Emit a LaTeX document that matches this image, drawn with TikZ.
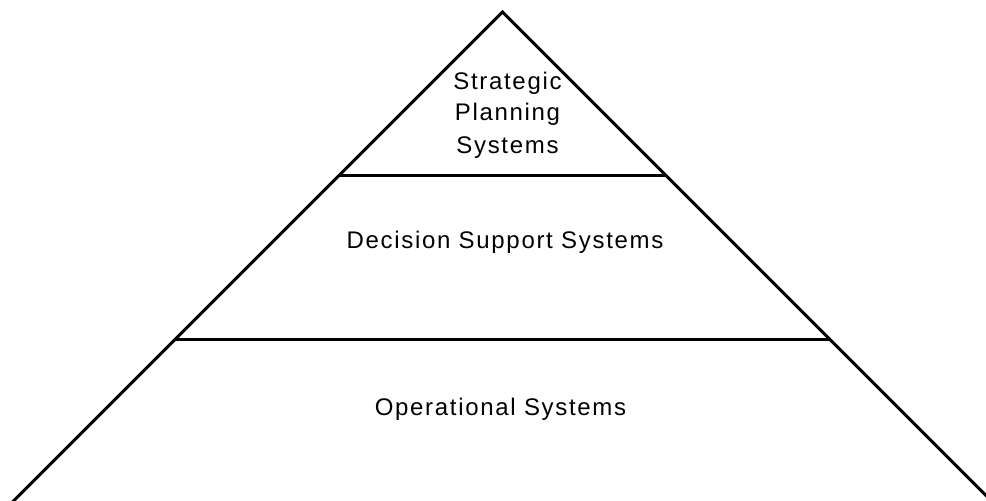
\documentclass[tikz,border=0pt]{standalone}
\usepackage{fontspec}
\setmainfont{Liberation Sans}[LetterSpace=7]
\begin{document}
\begin{tikzpicture}[x=1pt,y=-1pt,
  edge/.style={line width=3pt,line cap=butt,line join=miter},
  lbl/.style={anchor=base,inner sep=0pt,font=\fontsize{24}{28}\selectfont}]
\useasboundingbox (0,0) rectangle (986,501);
\coordinate (apex) at (502.5,12);
\coordinate (bl) at (10.5,504);
\coordinate (br) at (994.5,504);
\coordinate (l1) at (339.5,175);
\coordinate (r1) at (665.5,175);
\coordinate (l2) at (175.5,339);
\coordinate (r2) at (829.5,339);
\draw[edge] (bl) -- (apex) -- (br);
\draw[edge] (l1) -- (r1);
\draw[edge] (l2) -- (r2);
\node[lbl] (s1) at (507.5,89) {Strategic};
\node[lbl] (s2) at (507.5,120.5) {Planning};
\node[lbl] (s3) at (507.5,153) {Systems};
\node[lbl] (dss) at (505,248) {Decision Support Systems};
\node[lbl] (ops) at (500.5,415) {Operational Systems};
\end{tikzpicture}
\end{document}
